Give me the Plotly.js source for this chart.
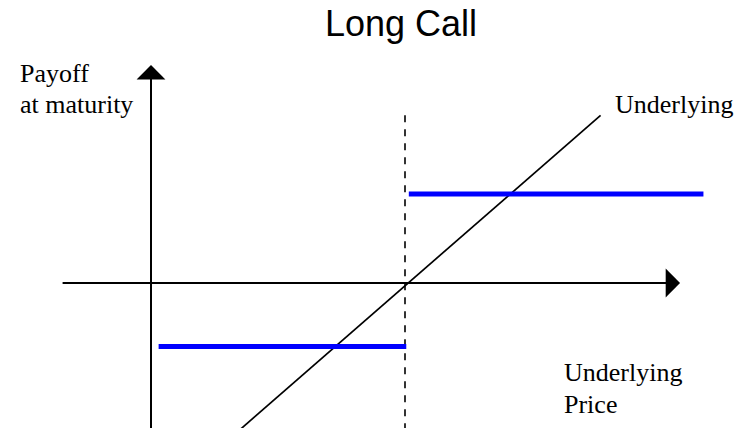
<!DOCTYPE html>
<html>
<head>
<meta charset="utf-8">
<script src="https://cdn.plot.ly/plotly-3.0.1.min.js"></script>
<style>
  html, body { margin: 0; padding: 0; background: #fff; }
  #plotCall { width: 739px; height: 428px; }
</style>
</head>
<body>
<div id="plotCall"></div>
<script>
// LONG CALL payoff sketch
// units: underlying price on x (strike = 100), payoff on y

// strike (dashed line)
var strikeX = [100, 100];
var strikeY = [66, -60];

// payoff below / above the strike (blue)
var lowX = [3, 100.5];
var lowY = [-25, -25];
var highX = [101.5, 217.5];
var highY = [35, 35];

// underlying line
var underX = [29, 177];
var underY = [-63, 66];

// axis ends (arrows)
var hAxisX = [-35.4, 208.3];
var vAxisY = [-60, 85.8];

var traces = [
  {x: strikeX, y: strikeY, mode: "lines", line: {color: "#000", width: 1.6, dash: "7px,7px"}},
  {x: underX, y: underY, mode: "lines", line: {color: "#000", width: 1.7}},
  {x: lowX, y: lowY, mode: "lines", line: {color: "#0000ff", width: 5}},
  {x: highX, y: highY, mode: "lines", line: {color: "#0000ff", width: 5}}
];

// helper for the plain text labels (px from top-left)
var serif = {family: "Liberation Serif, Times New Roman, serif", size: 26, color: "#000"};
function label(txt, px, py) {
  return {text: txt, xref: "paper", yref: "paper", x: px / 739, y: 1 - py / 428,
          xanchor: "left", yanchor: "middle", showarrow: false, font: serif};
}

var annotations = [
  // horizontal axis with arrow
  {x: hAxisX[1], y: 0, ax: hAxisX[0], ay: 0, xref: "x", yref: "y", axref: "x", ayref: "y",
   text: "", showarrow: true, arrowhead: 1, arrowsize: 2.4, arrowwidth: 2, arrowcolor: "#000"},
  // vertical axis with arrow
  {x: 0, y: vAxisY[1], ax: 0, ay: vAxisY[0], xref: "x", yref: "y", axref: "x", ayref: "y",
   text: "", showarrow: true, arrowhead: 1, arrowsize: 2.4, arrowwidth: 2, arrowcolor: "#000"},
  label("Payoff", 18, 74),
  label("at maturity", 18, 105),
  label("Underlying", 613, 104),
  label("Underlying", 562, 372),
  label("Price", 562, 404)
];

var layout = {
  width: 739,
  height: 428,
  margin: {l: 0, r: 0, t: 0, b: 0},
  paper_bgcolor: "#fff",
  plot_bgcolor: "#fff",
  showlegend: false,
  title: {text: "Long Call", font: {family: "Liberation Sans, Arial, sans-serif", size: 36, color: "#000"},
          x: 401 / 739, xanchor: "center", y: 1 - 23 / 428, yanchor: "middle"},
  xaxis: {visible: false, range: [-59.45, 231.5]},
  yaxis: {visible: false, range: [-57.09, 111.42]},
  annotations: annotations
};

Plotly.newPlot("plotCall", traces, layout, {displayModeBar: false, staticPlot: true});
</script>
</body>
</html>
